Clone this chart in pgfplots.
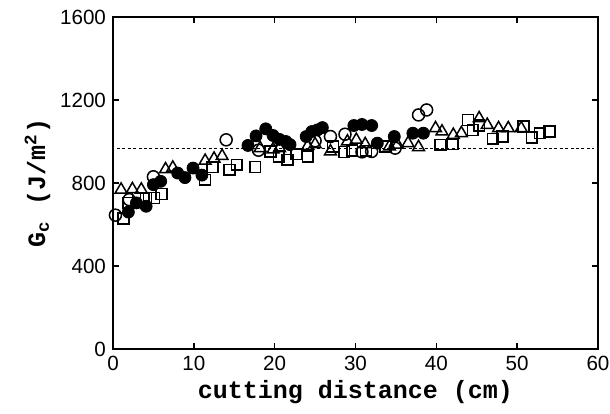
\documentclass[border=0pt]{standalone}
\usepackage{pgfplots}
\pgfplotsset{compat=1.18}
\usepackage{fontspec}
\setmainfont{Liberation Sans}
\setmonofont{Liberation Mono}
\begin{document}
\begin{tikzpicture}
\begin{axis}[
  scale only axis, width=242.5pt, height=166pt,
  xmin=0, xmax=60, ymin=0, ymax=1600,
  xtick={0,10,...,60}, ytick={0,400,...,1600},
  tick align=inside, major tick length=3pt,
  axis line style={line width=0.9pt}, tick style={line width=0.8pt, black},
  /pgf/number format/assume math mode=true,
  /pgf/number format/1000 sep={},
  ticklabel style={font=\fontsize{10.3}{12}\selectfont},
  xlabel={\ttfamily\bfseries cutting distance (cm)},
  ylabel={\ttfamily\bfseries G\textsubscript{c} (J/m\textsuperscript{2})},
  label style={font=\fontsize{12.5}{14}\selectfont},
  xlabel style={yshift=2pt},
  ylabel style={yshift=-2pt},
  clip=false,
]
\addplot[densely dashed, line width=0.5pt, dash pattern=on 1.5pt off 1.2pt] coordinates {(0.5,965) (59.5,965)};
% open circles
\addplot[only marks, mark=o, mark size=3pt, mark options={line width=0.75pt}] coordinates {
(0.3,645) (2,720) (5,830) (14,1008) (18,958) (25,1003) (26.9,1024) (28.7,1035)
(30.8,950) (32,952) (34.9,968) (37.8,1128) (38.8,1152)
};
% filled circles
\addplot[only marks, mark=*, mark size=3pt, fill=black] coordinates {
(1.9,660) (2.9,704) (4.1,688) (5,792) (5.9,808) (8,848) (8.9,826) (9.9,872) (11,838)
(16.7,981) (17.7,1027) (18.9,1061) (19.8,1029) (20.6,1010) (21.4,1000) (21.9,985)
(23.9,1024) (24.6,1048) (25.3,1056) (25.9,1067) (29.8,1077) (30.8,1082) (32,1077)
(32.7,992) (34.8,1024) (37.1,1040) (38.4,1040)
};
% triangles
\addplot[only marks, mark=triangle, mark size=3.4pt, mark options={line width=0.75pt}] coordinates {
(1,768) (2.4,770) (3.5,768) (6.5,866) (7.4,874) (11.4,907) (12.5,917) (13.5,930)
(18.2,968) (19.8,962) (20.6,968) (24.1,979) (25,987) (26.9,952) (29,1000) (30.1,1008)
(31.2,987) (34.2,976) (35.2,984) (36.5,992) (37.8,973) (39.9,1064) (40.7,1048)
(42.1,1032) (43.1,1040) (45.3,1112) (46.3,1080) (47.7,1064) (48.9,1064) (50.5,1064)
};
% squares
\addplot[only marks, mark=square, mark size=2.7pt, mark options={line width=0.75pt}] coordinates {
(1.3,629) (1.9,704) (3.1,728) (4.1,728) (5.1,728) (6,747) (11.4,816) (12.3,877)
(14.4,864) (15.3,888) (17.6,877) (19.5,952) (20.5,928) (21.6,912) (22.7,939) (24.1,928)
(27.2,976) (28.6,949) (29.6,957) (31.3,955) (33.7,976) (40.5,984) (42,987) (43.9,1104)
(44.5,1056) (45.3,1077) (47,1013) (48.2,1024) (50.8,1072) (51.8,1019) (52.8,1040) (54,1048)
};
\end{axis}
\pgfresetboundingbox
\useasboundingbox ([xshift=-56.5pt,yshift=-32pt]current axis.south west) rectangle ([xshift=6pt,yshift=8.5pt]current axis.north east);
\end{tikzpicture}
\end{document}
